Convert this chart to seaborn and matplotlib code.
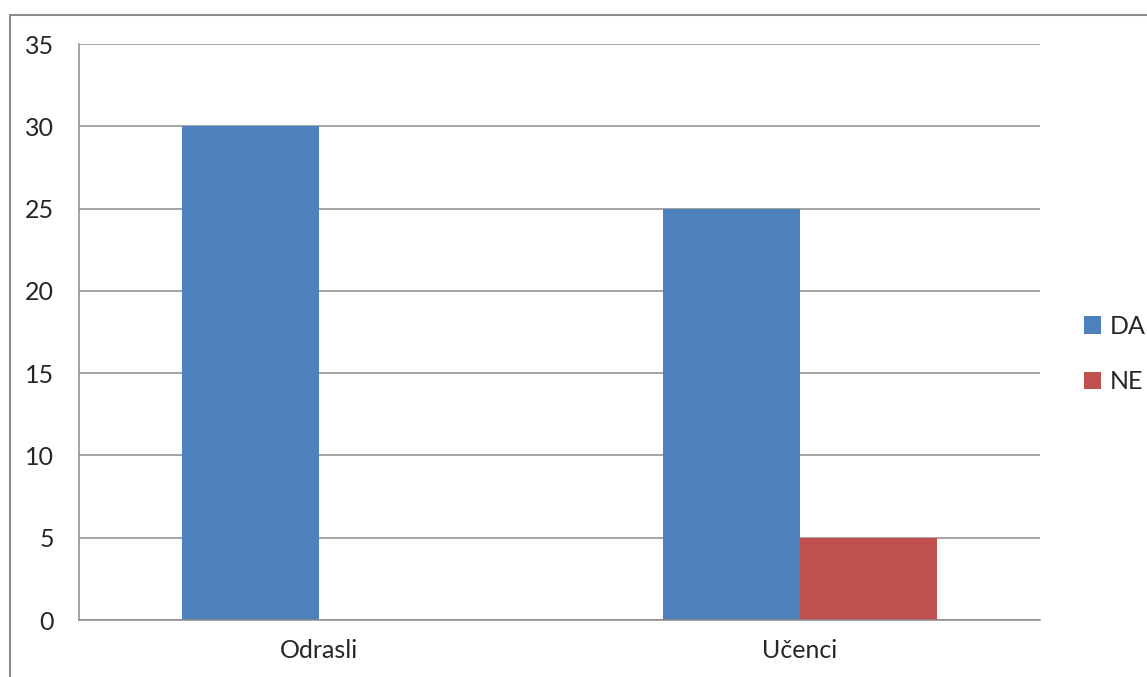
import matplotlib
matplotlib.use("Agg")
import matplotlib.pyplot as plt
from matplotlib.patches import Rectangle
import pandas as pd
import seaborn as sns

categories = ["Odrasli", "Učenci"]
da_values = [30, 25]
ne_values = [0, 5]
series = ["DA", "NE"]

df = pd.DataFrame({
    "skupina": categories * 2,
    "odgovor": ["DA"] * len(categories) + ["NE"] * len(categories),
    "stevilo": da_values + ne_values,
})

sns.set_style("white")
plt.rcParams["font.family"] = ["Lato", "DejaVu Sans"]

fig = plt.figure(figsize=(11.47, 6.77), dpi=100)
ax = fig.add_axes([79 / 1147, 57 / 677, 961 / 1147, 576 / 677])

# outer chart border (left and top only visible)
fig.patches.append(Rectangle((10 / 1147, -0.1), 1.2, (677 - 15) / 677 + 0.1,
                             transform=fig.transFigure, fill=False,
                             edgecolor="#8c8c8c", linewidth=1.5))

sns.barplot(data=df, x="skupina", y="stevilo", hue="odgovor", hue_order=series,
            palette=["#4F81BD", "#C0504D"], width=0.57, gap=0,
            saturation=1, edgecolor="none", ax=ax, legend=True)

ax.set_xlim(-0.5, 1.5)
ax.set_ylim(0, 35)
ax.set_yticks(range(0, 36, 5))
ax.set_xlabel("")
ax.set_ylabel("")
ax.yaxis.grid(True, color="#8c8c8c", linewidth=1.1)
ax.set_axisbelow(True)
for s in ["top", "right"]:
    ax.spines[s].set_visible(False)
for s in ["left", "bottom"]:
    ax.spines[s].set_color("#8c8c8c")
    ax.spines[s].set_linewidth(1.1)

ax.tick_params(axis="y", length=6, color="#8c8c8c", width=1.1, labelsize=18, pad=12)
ax.tick_params(axis="x", which="major", length=0, labelsize=18, pad=14)
ax.set_xticks([-0.5, 0.5, 1.5], minor=True)
ax.tick_params(axis="x", which="minor", length=6, color="#8c8c8c", width=1.1)

handles, labels = ax.get_legend_handles_labels()
ax.legend(handles, labels, loc="center left", bbox_to_anchor=(1061 / 1147, 323 / 677),
          bbox_transform=fig.transFigure, frameon=False, fontsize=18,
          handlelength=0.7, handleheight=0.7, handletextpad=0.35, labelspacing=1.3)

fig.savefig("out.png", dpi=100)
